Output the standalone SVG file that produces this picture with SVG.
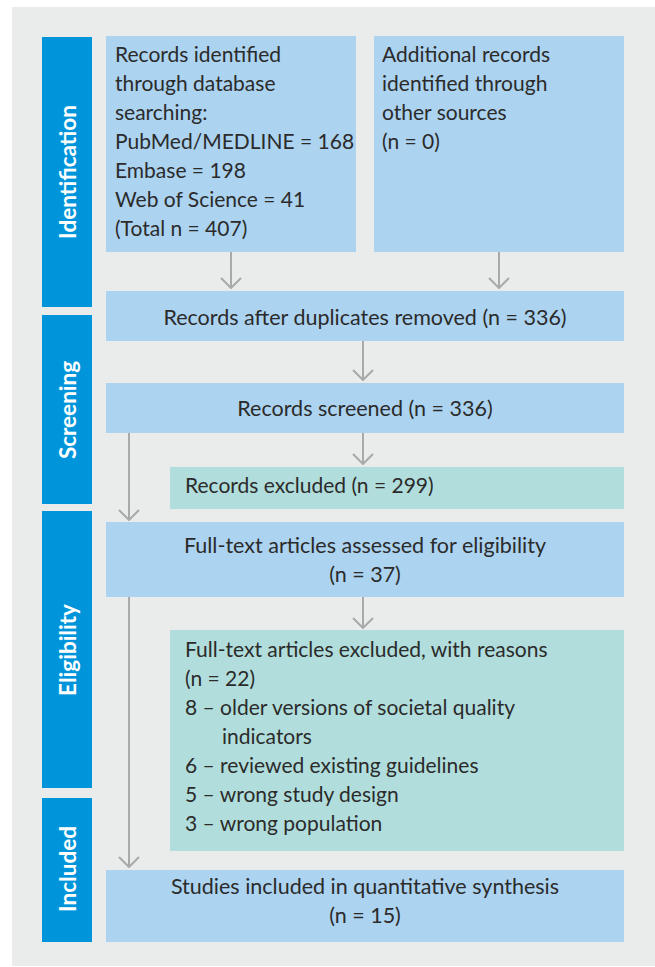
<svg xmlns="http://www.w3.org/2000/svg" width="655" height="967" viewBox="0 0 655 967">
<defs>
<style>
.bar{fill:#0095da}
.box{fill:#acd3f0}
.exc{fill:#b1dedc}
.t{font-family:Lato,"Open Sans",sans-serif;font-size:21px;fill:#2b2b2b}
.c{text-anchor:middle;font-size:21.5px}
.side{font-family:Lato,"Open Sans",sans-serif;font-size:22.5px;font-weight:bold;fill:#ffffff;text-anchor:middle;dominant-baseline:central}
.ln{stroke:#a9a9a9;stroke-width:2;fill:none}
</style>
<marker id="ah" viewBox="0 0 12 22" refX="11" refY="11" markerWidth="12" markerHeight="22" markerUnits="userSpaceOnUse" orient="auto">
<path d="M1,1 L11,11 L1,21" stroke="#a9a9a9" stroke-width="2" fill="none"/>
</marker>
</defs>
<rect x="0" y="0" width="655" height="967" fill="#ffffff"/>
<rect x="12" y="7" width="643" height="959" fill="#eaecec"/>
<g id="stage-identification"><rect class="bar" x="42" y="37" width="50" height="270"/><text class="side" transform="translate(67,172) rotate(-90)">Identification</text></g>
<g id="stage-screening"><rect class="bar" x="42" y="315" width="50" height="189"/><text class="side" transform="translate(67,410) rotate(-90)">Screening</text></g>
<g id="stage-eligibility"><rect class="bar" x="42" y="511" width="50" height="277"/><text class="side" transform="translate(67,650) rotate(-90)">Eligibility</text></g>
<g id="stage-included"><rect class="bar" x="42" y="798" width="50" height="144"/><text class="side" transform="translate(67,869) rotate(-90)">Included</text></g>
<g id="db-records"><rect class="box" x="106" y="36" width="250" height="216"/>
<text class="t" x="115"><tspan x="115" y="62">Records identified</tspan><tspan x="115" y="91">through database</tspan><tspan x="115" y="120">searching:</tspan><tspan x="115" y="149">PubMed/MEDLINE = 168</tspan><tspan x="115" y="178">Embase = 198</tspan><tspan x="115" y="207">Web of Science = 41</tspan><tspan x="115" y="236">(Total n = 407)</tspan></text></g>
<g id="other-records"><rect class="box" x="374" y="36" width="250" height="216"/>
<text class="t"><tspan x="382" y="62">Additional records</tspan><tspan x="382" y="91">identified through</tspan><tspan x="382" y="120">other sources</tspan><tspan x="382" y="149">(n = 0)</tspan></text></g>
<g id="dedup"><rect class="box" x="106" y="291" width="518" height="50"/><text class="t c" x="365" y="325">Records after duplicates removed (n = 336)</text></g>
<g id="screened"><rect class="box" x="106" y="383" width="518" height="50"/><text class="t c" x="365" y="416">Records screened (n = 336)</text></g>
<g id="excluded"><rect class="exc" x="170" y="467" width="454" height="42"/><text class="t" x="185" y="493">Records excluded (n = 299)</text></g>
<g id="fulltext"><rect class="box" x="106" y="522" width="518" height="75"/><text class="t c"><tspan x="365" y="553">Full-text articles assessed for eligibility</tspan><tspan x="365" y="582">(n = 37)</tspan></text></g>
<g id="fulltext-excluded"><rect class="exc" x="170" y="630" width="454" height="221"/>
<text class="t"><tspan x="185" y="657">Full-text articles excluded, with reasons</tspan><tspan x="185" y="686">(n = 22)</tspan><tspan x="185" y="715">8 – older versions of societal quality</tspan><tspan x="222" y="744">indicators</tspan><tspan x="185" y="773">6 – reviewed existing guidelines</tspan><tspan x="185" y="802">5 – wrong study design</tspan><tspan x="185" y="831">3 – wrong population</tspan></text></g>
<g id="included"><rect class="box" x="106" y="870" width="518" height="72"/><text class="t c"><tspan x="365" y="894">Studies included in quantitative synthesis</tspan><tspan x="365" y="923">(n = 15)</tspan></text></g>
<g id="connectors">
<line class="ln" x1="231" y1="252" x2="231" y2="288" marker-end="url(#ah)"/>
<line class="ln" x1="499" y1="252" x2="499" y2="288" marker-end="url(#ah)"/>
<line class="ln" x1="363" y1="341" x2="363" y2="380" marker-end="url(#ah)"/>
<line class="ln" x1="363" y1="433" x2="363" y2="464" marker-end="url(#ah)"/>
<line class="ln" x1="129" y1="433" x2="129" y2="520" marker-end="url(#ah)"/>
<line class="ln" x1="363" y1="597" x2="363" y2="628" marker-end="url(#ah)"/>
<line class="ln" x1="129" y1="597" x2="129" y2="867" marker-end="url(#ah)"/>
</g>
</svg>
